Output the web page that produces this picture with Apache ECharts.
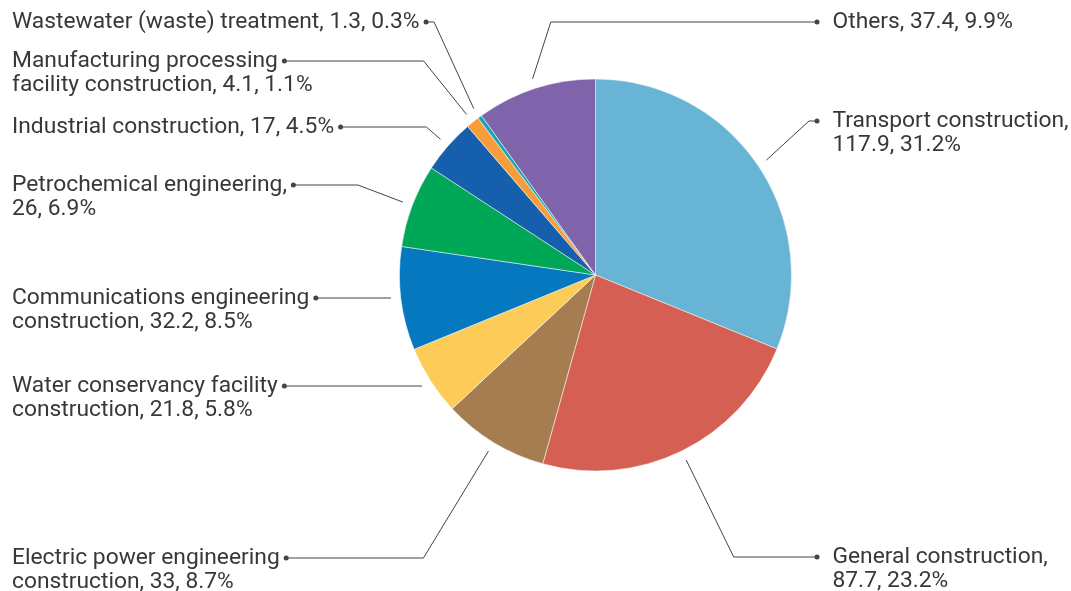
<!DOCTYPE html>
<html>
<head>
<meta charset="utf-8">
<script src="https://cdn.jsdelivr.net/npm/echarts@6/dist/echarts.min.js"></script>
<style>
  html, body { margin: 0; padding: 0; background: #ffffff; }
  #chart { width: 1071px; height: 591px; }
</style>
</head>
<body>
<div id="chart"></div>
<script>
// Investment by project type (value, share of total)
const categories = [
  'Transport construction',
  'General construction',
  'Electric power engineering construction',
  'Water conservancy facility construction',
  'Communications engineering construction',
  'Petrochemical engineering',
  'Industrial construction',
  'Manufacturing processing facility construction',
  'Wastewater (waste) treatment',
  'Others'
];
const values = [117.9, 87.7, 33, 21.8, 32.2, 26, 17, 4.1, 1.3, 37.4];
const colors = [
  '#67b4d4', '#d45f52', '#a67c51', '#fccb58', '#0578c0',
  '#00a757', '#155fad', '#f79d3c', '#16a5b6', '#7f64ab'
];

// Label placement: side of the chart, y of the first text row,
// and how many words go on the first row (0 = single row)
const labelSide = ['right', 'right', 'left', 'left', 'left', 'left', 'left', 'left', 'left', 'right'];
const labelRowY = [121, 557, 558, 386, 298, 185, 127, 61, 22, 22];
const firstRowWords = [2, 2, 3, 3, 2, 2, 0, 2, 0, 0];

const FONT_SIZE = 22.8;
const FONT_FAMILY = 'Roboto';
const LINE_H = 24;
const TEXT_COLOR = '#383838';
const LINE_COLOR = '#444444';
const LEFT_X = 12;          // left labels start here
const RIGHT_DOT_X = 817;    // right labels: dot centre
const DOT = 5;
const GAP_L = 4;            // text -> dot (left labels)
const GAP_R = 13;           // dot -> text (right labels)
const EDGE_GAP = 10;        // leader starts this far outside the pie
const MIN_RUN = 8;          // shortest horizontal run before the dot

const total = values.reduce((a, b) => a + b, 0);

function labelRows(i) {
  const pct = (values[i] / total * 100).toFixed(1);
  const text = categories[i] + ', ' + values[i] + ', ' + pct + '%';
  const words = text.split(' ');
  const n = firstRowWords[i];
  if (!n) return [text, null];
  return [words.slice(0, n).join(' '), words.slice(n).join(' ')];
}

const measureCtx = document.createElement('canvas').getContext('2d');
measureCtx.font = FONT_SIZE + 'px ' + FONT_FAMILY;
function textWidth(s) { return measureCtx.measureText(s).width; }

const chart = echarts.init(document.getElementById('chart'), null, { renderer: 'canvas' });

chart.setOption({
  animation: false,
  backgroundColor: '#ffffff',
  series: [{
    type: 'pie',
    center: [595.5, 275],
    radius: 196,
    startAngle: 90,
    clockwise: true,
    avoidLabelOverlap: false,
    data: categories.map((name, i) => ({
      name: name,
      value: values[i],
      itemStyle: { color: colors[i] }
    })),
    itemStyle: { borderColor: '#ffffff', borderWidth: 0.5 },
    emphasis: { disabled: true },
    label: {
      show: true,
      position: 'outside',
      width: 520,
      overflow: 'none',
      fontFamily: FONT_FAMILY,
      fontSize: FONT_SIZE,
      color: TEXT_COLOR,
      lineHeight: LINE_H,
      formatter: function (p) {
        const [r1, r2] = labelRows(p.dataIndex);
        if (labelSide[p.dataIndex] === 'left') {
          return '{t|' + r1 + '}{gapL|}{dot|}' + (r2 ? '\n{t|' + r2 + '}' : '');
        }
        return '{dot|}{gapR|}{t|' + r1 + '}' + (r2 ? '\n{ind|}{t|' + r2 + '}' : '');
      },
      rich: {
        t: { fontFamily: FONT_FAMILY, fontSize: FONT_SIZE, color: TEXT_COLOR, lineHeight: LINE_H },
        gapL: { width: GAP_L, lineHeight: LINE_H },
        gapR: { width: GAP_R, lineHeight: LINE_H },
        ind: { width: GAP_R + DOT, lineHeight: LINE_H },
        dot: { width: DOT, height: DOT, lineHeight: LINE_H, backgroundColor: LINE_COLOR, borderRadius: DOT / 2 }
      }
    },
    labelLine: {
      show: true,
      length: 15,
      length2: 10,
      smooth: false,
      lineStyle: { color: LINE_COLOR, width: 1 }
    },
    labelLayout: function (params) {
      const i = params.dataIndex;
      const pts = params.labelLinePoints;
      const p0 = pts[0], p1 = pts[1];
      let ux = p1[0] - p0[0], uy = p1[1] - p0[1];
      const len = Math.hypot(ux, uy) || 1;
      ux /= len; uy /= len;
      const start = [p0[0] + ux * EDGE_GAP, p0[1] + uy * EDGE_GAP];
      const rowY = labelRowY[i];
      const t = Math.abs(uy) > 1e-6 ? (rowY - start[1]) / uy : -1;
      let kx = t > 0 ? start[0] + ux * t : start[0];
      const isLeft = labelSide[i] === 'left';
      let dotX, labelX;
      if (isLeft) {
        const r1 = labelRows(i)[0];
        dotX = LEFT_X + textWidth(r1) + GAP_L + DOT / 2;
        labelX = LEFT_X;
        if (kx > start[0]) kx = start[0] - (kx - start[0]);
        kx = Math.max(kx, dotX + MIN_RUN);
      } else {
        dotX = RIGHT_DOT_X;
        labelX = RIGHT_DOT_X - DOT / 2;
        if (kx < start[0]) kx = start[0] + (start[0] - kx);
        kx = Math.min(kx, dotX - MIN_RUN);
      }
      const first = t > 0 ? start : [start[0], rowY];
      return {
        x: labelX,
        y: rowY - LINE_H / 2,
        align: 'left',
        verticalAlign: 'top',
        labelLinePoints: [first, [kx, rowY], [dotX, rowY]]
      };
    }
  }]
});
</script>
</body>
</html>
